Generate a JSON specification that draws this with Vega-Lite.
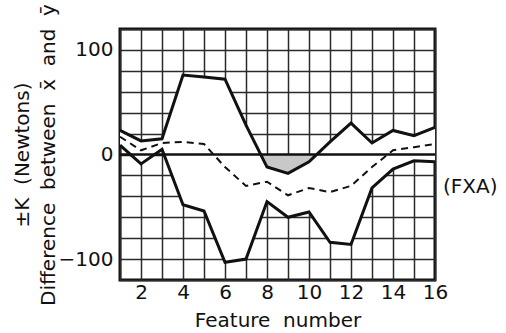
{
  "$schema": "https://vega.github.io/schema/vega-lite/v6.json",
  "autosize": {"type": "none"},
  "width": 315,
  "height": 251,
  "padding": {"left": 120, "top": 29, "right": 71, "bottom": 53},
  "background": "white",
  "config": {
    "font": "DejaVu Sans",
    "view": {"stroke": "#111", "strokeWidth": 3},
    "axis": {"labelColor": "#111", "titleColor": "#111", "labelFont": "DejaVu Sans", "titleFont": "DejaVu Sans", "titleFontWeight": "normal", "labelOverlap": false, "labelBound": false, "labelFlush": false}
  },
  "datasets": {
    "curves": [
      {"x": 1, "upper": 23, "mid": 17, "lower": 9},
      {"x": 2, "upper": 13, "mid": 4, "lower": -9},
      {"x": 3, "upper": 15, "mid": 11, "lower": 5},
      {"x": 4, "upper": 76, "mid": 12, "lower": -48},
      {"x": 5, "upper": 74, "mid": 10, "lower": -54},
      {"x": 6, "upper": 72, "mid": -12, "lower": -103},
      {"x": 7, "upper": 28, "mid": -30, "lower": -100},
      {"x": 8, "upper": -12, "mid": -26, "lower": -45},
      {"x": 9, "upper": -18, "mid": -39, "lower": -60},
      {"x": 10, "upper": -7, "mid": -32, "lower": -55},
      {"x": 11, "upper": 12, "mid": -36, "lower": -84},
      {"x": 12, "upper": 30, "mid": -30, "lower": -86},
      {"x": 13, "upper": 11, "mid": -12, "lower": -32},
      {"x": 14, "upper": 23, "mid": 4, "lower": -14},
      {"x": 15, "upper": 18, "mid": 7, "lower": -6},
      {"x": 16, "upper": 26, "mid": 10, "lower": -7}
    ],
    "shade": [
      {"x": 7.65, "y": 0},
      {"x": 8, "y": -12},
      {"x": 9, "y": -18},
      {"x": 10, "y": -7},
      {"x": 10.32, "y": 0}
    ],
    "zero": [{"y": 0}],
    "note": [{"x": 16, "y": -31, "label": "(FXA)"}]
  },
  "layer": [
    {
      "data": {"name": "curves"},
      "mark": {"type": "area", "color": "white", "opacity": 1},
      "encoding": {
        "x": {
          "field": "x", "type": "quantitative",
          "scale": {"domain": [1, 16], "nice": false, "zero": false},
          "axis": {
            "values": [1, 2, 3, 4, 5, 6, 7, 8, 9, 10, 11, 12, 13, 14, 15, 16],
            "tickCount": 16,
            "labelExpr": "datum.value % 2 == 0 ? datum.label : ''",
            "grid": true, "gridColor": "#2a2a2a", "gridWidth": 1.5, "gridOpacity": 1,
            "ticks": false, "domain": false,
            "labelFontSize": 20, "labelPadding": 2,
            "title": "Feature\u00a0 number", "titleFontSize": 20, "titlePadding": 8
          }
        },
        "y": {
          "field": "lower", "type": "quantitative",
          "scale": {"domain": [-120, 120], "nice": false},
          "axis": {
            "values": [-120, -100, -80, -60, -40, -20, 0, 20, 40, 60, 80, 100, 120],
            "tickCount": 13,
            "labelExpr": "datum.value == 100 || datum.value == 0 || datum.value == -100 ? datum.label : ''",
            "grid": true, "gridColor": "#2a2a2a", "gridWidth": 1.5, "gridOpacity": 1,
            "ticks": false, "domain": false,
            "labelFontSize": 20, "labelPadding": 7,
            "title": ["±K\u00a0 (Newtons)", "Difference\u00a0 between\u00a0 x̄\u00a0 and\u00a0 ȳ"],
            "titleFontSize": 20, "titleLineHeight": 26, "titlePadding": 0
          }
        },
        "y2": {"field": "upper"}
      }
    },
    {
      "data": {"name": "shade"},
      "mark": {"type": "area", "color": "#c8c8c8", "opacity": 1},
      "encoding": {
        "x": {"field": "x", "type": "quantitative"},
        "y": {"field": "y", "type": "quantitative"},
        "y2": {"datum": 0}
      }
    },
    {
      "data": {"name": "zero"},
      "mark": {"type": "rule", "color": "#111", "strokeWidth": 2.5},
      "encoding": {"y": {"field": "y", "type": "quantitative"}}
    },
    {
      "data": {"name": "curves"},
      "mark": {"type": "line", "color": "#111", "strokeWidth": 2, "strokeDash": [7, 5]},
      "encoding": {
        "x": {"field": "x", "type": "quantitative"},
        "y": {"field": "mid", "type": "quantitative"}
      }
    },
    {
      "data": {"name": "curves"},
      "mark": {"type": "line", "color": "#111", "strokeWidth": 3, "strokeJoin": "miter"},
      "encoding": {
        "x": {"field": "x", "type": "quantitative"},
        "y": {"field": "upper", "type": "quantitative"}
      }
    },
    {
      "data": {"name": "curves"},
      "mark": {"type": "line", "color": "#111", "strokeWidth": 3, "strokeJoin": "miter"},
      "encoding": {
        "x": {"field": "x", "type": "quantitative"},
        "y": {"field": "lower", "type": "quantitative"}
      }
    },
    {
      "data": {"name": "note"},
      "mark": {"type": "text", "align": "left", "baseline": "middle", "dx": 8, "fontSize": 20, "color": "#111", "font": "DejaVu Sans", "clip": false},
      "encoding": {
        "x": {"field": "x", "type": "quantitative"},
        "y": {"field": "y", "type": "quantitative"},
        "text": {"field": "label"}
      }
    }
  ]
}
